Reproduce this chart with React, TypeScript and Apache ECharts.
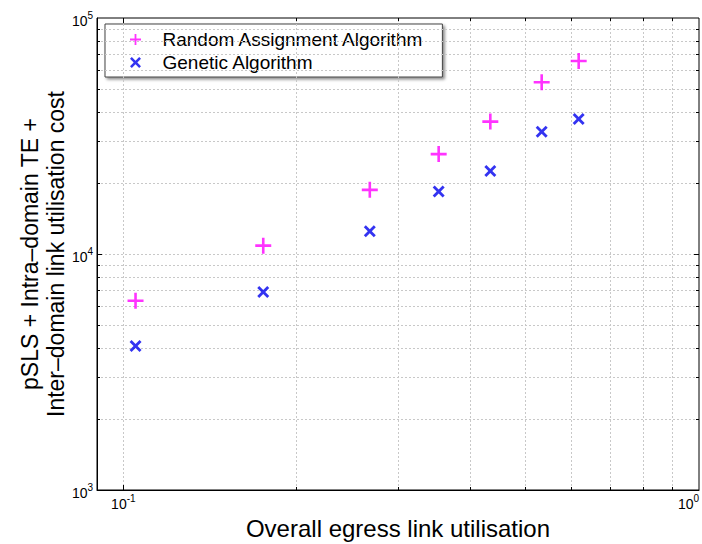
import React, { useEffect, useRef } from 'react';
import * as echarts from 'echarts';

// Data (log-log)
const utilisation = [0.105, 0.175, 0.268, 0.353, 0.434, 0.533, 0.618];
const randomCost = [6340, 10850, 18700, 26500, 36400, 53400, 65700];
const geneticCost = [4080, 6900, 12500, 18400, 22500, 33000, 37300];

const seriesNames = ['Random Assignment Algorithm', 'Genetic Algorithm'];

// Axis extents and grid/tick positions
const xRange = [0.09, 1];
const yRange = [1000, 100000];
const xMinorTicks = [0.2, 0.3, 0.4, 0.5, 0.6, 0.7, 0.8, 0.9];
const xMajorTicks = [0.1];
const yMinorTicks = [2000, 3000, 4000, 5000, 6000, 7000, 8000, 9000, 20000, 30000, 40000, 50000, 60000, 70000, 80000, 90000];
const yMajorTicks = [10000];

const FONT = 'Liberation Sans, Arial, Helvetica, sans-serif';

const plusPath = 'path://M6.7,0 H9.3 V6.7 H16 V9.3 H9.3 V16 H6.7 V9.3 H0 V6.7 H6.7 Z';
const crossPath = 'path://M0,2 L2,0 L6,4 L10,0 L12,2 L8,6 L12,10 L10,12 L6,8 L2,12 L0,10 L4,6 Z';

function powLabel(v: number) {
  const e = Math.log10(v);
  const r = Math.round(e);
  if (Math.abs(e - r) > 1e-6) return '';
  return `{b|10}{s|${r}}`;
}

const richLabel = {
  b: { fontSize: 14, fontFamily: FONT, color: '#000', lineHeight: 16, padding: [5, 0, 0, 0] },
  s: { fontSize: 10, fontFamily: FONT, color: '#000', lineHeight: 10, verticalAlign: 'top' },
};

function buildTicks() {
  const segs: any[] = [];
  const [x0, x1] = xRange;
  const [y0, y1] = yRange;
  const xMin = 10 ** (3 / 575);
  const xMaj = 10 ** (5 / 575);
  const yMin = 10 ** (3 / 236);
  const yMaj = 10 ** (5 / 236);
  const addX = (x: number, f: number) => {
    segs.push([{ coord: [x, y0] }, { coord: [x, y0 * f] }]);
    segs.push([{ coord: [x, y1] }, { coord: [x, y1 / f] }]);
  };
  const addY = (y: number, f: number) => {
    segs.push([{ coord: [x0, y] }, { coord: [x0 * f, y] }]);
    segs.push([{ coord: [x1, y] }, { coord: [x1 / f, y] }]);
  };
  xMinorTicks.forEach((x) => addX(x, yMin));
  xMajorTicks.forEach((x) => addX(x, yMaj));
  yMinorTicks.forEach((y) => addY(y, xMin));
  yMajorTicks.forEach((y) => addY(y, xMaj));
  return segs;
}

export default function App() {
  const ref = useRef<HTMLDivElement>(null);
  useEffect(() => {
    if (!ref.current) return;
    const chart = echarts.init(ref.current, null, { renderer: 'svg' });
    const gridLines = [
      ...xMinorTicks.map((v) => ({ xAxis: v })),
      ...xMajorTicks.map((v) => ({ xAxis: v })),
      ...yMinorTicks.map((v) => ({ yAxis: v })),
      ...yMajorTicks.map((v) => ({ yAxis: v })),
    ];
    chart.setOption({
      animation: false,
      backgroundColor: '#fff',
      grid: {
        left: 97,
        top: 18,
        right: 3,
        bottom: 54,
        containLabel: false,
        outerBoundsMode: 'none',
        show: true,
        backgroundColor: '#fff',
        borderColor: '#000',
        borderWidth: 1,
      },
      legend: {
        orient: 'vertical',
        left: 105,
        top: 24,
        padding: [6, 18, 5, 25],
        itemGap: 4,
        itemWidth: 44,
        itemHeight: 11,
        backgroundColor: '#fff',
        borderColor: '#444',
        borderWidth: 1,
        shadowColor: 'rgba(0,0,0,0.45)',
        shadowBlur: 3,
        shadowOffsetX: 2,
        shadowOffsetY: 2,
        textStyle: { fontSize: 19, fontFamily: FONT, color: '#000' },
        data: [
          { name: seriesNames[0], icon: plusPath },
          { name: seriesNames[1], icon: crossPath },
        ],
      },
      xAxis: {
        type: 'log',
        logBase: 10,
        min: xRange[0],
        max: xRange[1],
        name: 'Overall egress link utilisation',
        nameLocation: 'middle',
        nameGap: 26,
        nameMoveOverlap: false,
        nameTextStyle: { fontSize: 24, fontFamily: FONT, color: '#000' },
        axisLine: { show: true, lineStyle: { color: '#000', width: 1 } },
        axisTick: { show: false },
        splitLine: { show: false },
        axisLabel: { margin: 3, formatter: powLabel, rich: richLabel, color: '#000', alignMaxLabel: 'right' },
      },
      yAxis: {
        type: 'log',
        logBase: 10,
        min: yRange[0],
        max: yRange[1],
        name: 'pSLS + Intra\u2013domain TE +\nInter\u2013domain link utilisation cost',
        nameLocation: 'middle',
        nameGap: 28,
        nameMoveOverlap: false,
        nameTextStyle: { fontSize: 23, fontFamily: FONT, color: '#000', lineHeight: 26 },
        axisLine: { show: true, lineStyle: { color: '#000', width: 1 } },
        axisTick: { show: false },
        splitLine: { show: false },
        axisLabel: { margin: 4, formatter: powLabel, rich: richLabel, color: '#000' },
      },
      series: [
        {
          name: 'grid',
          type: 'line',
          data: [],
          z: 1,
          silent: true,
          markLine: {
            silent: true,
            symbol: 'none',
            label: { show: false },
            animation: false,
            lineStyle: { color: '#c8c8c8', type: [2, 2], width: 1 },
            emphasis: { disabled: true },
            data: gridLines,
          },
        },
        {
          name: 'ticks',
          type: 'line',
          data: [],
          z: 3,
          silent: true,
          markLine: {
            silent: true,
            symbol: 'none',
            label: { show: false },
            animation: false,
            lineStyle: { color: '#000', type: 'solid', width: 1 },
            emphasis: { disabled: true },
            data: buildTicks(),
          },
        },
        {
          name: seriesNames[0],
          type: 'scatter',
          symbol: plusPath,
          symbolSize: 16,
          symbolKeepAspect: true,
          itemStyle: { color: '#ff00ff' },
          z: 5,
          data: utilisation.map((x, i) => [x, randomCost[i]]),
        },
        {
          name: seriesNames[1],
          type: 'scatter',
          symbol: crossPath,
          symbolSize: 12,
          symbolKeepAspect: true,
          itemStyle: { color: '#0000ee' },
          z: 5,
          data: utilisation.map((x, i) => [x, geneticCost[i]]),
        },
      ],
    });
    return () => chart.dispose();
  }, []);
  return <div ref={ref} style={{ width: 702, height: 544, position: 'absolute', left: 0, top: 0 }} />;
}
